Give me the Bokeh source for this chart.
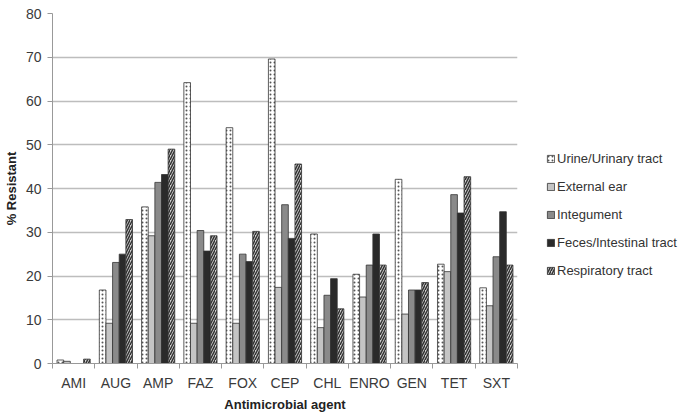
from bokeh.plotting import figure
from bokeh.models import FixedTicker, Legend, LegendItem, ColumnDataSource
from bokeh.embed import file_html
from bokeh.resources import INLINE

agents = ["AMI", "AUG", "AMP", "FAZ", "FOX", "CEP", "CHL", "ENRO", "GEN", "TET", "SXT"]
urine = [0.8, 16.8, 35.8, 64.2, 53.9, 69.6, 29.6, 20.4, 42.1, 22.7, 17.3]
ear = [0.5, 9.2, 29.2, 9.2, 9.2, 17.4, 8.2, 15.2, 11.3, 21.0, 13.2]
integument = [0.0, 23.1, 41.4, 30.4, 25.0, 36.3, 15.6, 22.5, 16.8, 38.6, 24.4]
feces = [0.0, 25.0, 43.2, 25.7, 23.3, 28.6, 19.4, 29.6, 16.8, 34.4, 34.7]
resp = [1.0, 32.9, 49.0, 29.2, 30.2, 45.6, 12.5, 22.5, 18.5, 42.7, 22.5]
series_names = ["Urine/Urinary tract", "External ear", "Integument",
                "Feces/Intestinal tract", "Respiratory tract"]
y_ticks = [0, 10, 20, 30, 40, 50, 60, 70, 80]

FONT = "Liberation Sans"
p = figure(width=677, height=404, output_backend="svg", toolbar_location=None,
           x_range=(0, 11), y_range=(0, 80),
           frame_width=465, frame_height=350,
           min_border_left=46, min_border_top=13, min_border_right=166,
           min_border_bottom=41)
p.outline_line_color = None
p.xgrid.grid_line_color = None
p.ygrid.grid_line_color = "#bdbdbd"
p.ygrid.grid_line_width = 1.4

styles = [
    dict(fill_color="white", hatch_pattern="dot", hatch_color="#555", hatch_scale=4, hatch_weight=1),
    dict(fill_color="#c4c4c4"),
    dict(fill_color="#8a8a8a"),
    dict(fill_color="#2a2a2a"),
    dict(fill_color="#d0d0d0", hatch_pattern="right_diagonal_line", hatch_color="#333333", hatch_scale=5, hatch_weight=1.5),
]
data = [urine, ear, integument, feces, resp]
bw = 0.157
centers = [i + 0.5 for i in range(len(agents))]
items = []
for k, (vals, st) in enumerate(zip(data, styles)):
    xs = [c + (k - 2) * bw for c in centers]
    src = ColumnDataSource(dict(x=xs, top=vals))
    r = p.vbar(x="x", top="top", bottom=0, width=bw, source=src,
               line_color="#333333", line_width=0.8, **st)
    items.append(LegendItem(label=series_names[k], renderers=[r]))

p.xaxis.ticker = FixedTicker(ticks=centers, minor_ticks=list(range(12)))
p.xaxis.major_label_overrides = {c: a for c, a in zip(centers, agents)}
p.xaxis.major_tick_line_color = None
p.xaxis.major_tick_in = 0
p.xaxis.major_tick_out = 0
p.xaxis.minor_tick_in = 0
p.xaxis.minor_tick_out = 5
p.xaxis.minor_tick_line_color = "#999999"
p.xaxis.axis_line_color = "#999999"
p.yaxis.ticker = FixedTicker(ticks=y_ticks)
p.yaxis.minor_tick_line_color = None
p.yaxis.major_tick_in = 0
p.yaxis.major_tick_out = 5
p.yaxis.major_tick_line_color = "#999999"
p.yaxis.axis_line_color = "#999999"

for ax in (p.xaxis[0], p.yaxis[0]):
    ax.major_label_text_font = FONT
    ax.major_label_text_font_size = "14px"
    ax.major_label_text_color = "#3a3a3a"
    ax.axis_label_text_font = FONT
    ax.axis_label_text_font_size = "13px"
    ax.axis_label_text_font_style = "bold"
    ax.axis_label_text_color = "#222222"

p.xaxis.axis_label = "Antimicrobial agent"
p.yaxis.axis_label = "% Resistant"
p.xaxis.major_label_standoff = 6
p.xaxis.axis_label_standoff = 3
p.yaxis.major_label_standoff = 6
p.yaxis.axis_label_standoff = 4

legend = Legend(items=items, location=(29, 83), orientation="vertical")
legend.background_fill_alpha = 0
legend.border_line_color = None
legend.label_text_font = FONT
legend.label_text_font_size = "13px"
legend.label_text_color = "#333333"
legend.glyph_width = 9
legend.glyph_height = 9
legend.label_height = 20
legend.spacing = 8
legend.label_standoff = 2
legend.padding = 4
legend.margin = 0
p.add_layout(legend, "right")

open("out.html", "w").write(file_html(p, INLINE))
